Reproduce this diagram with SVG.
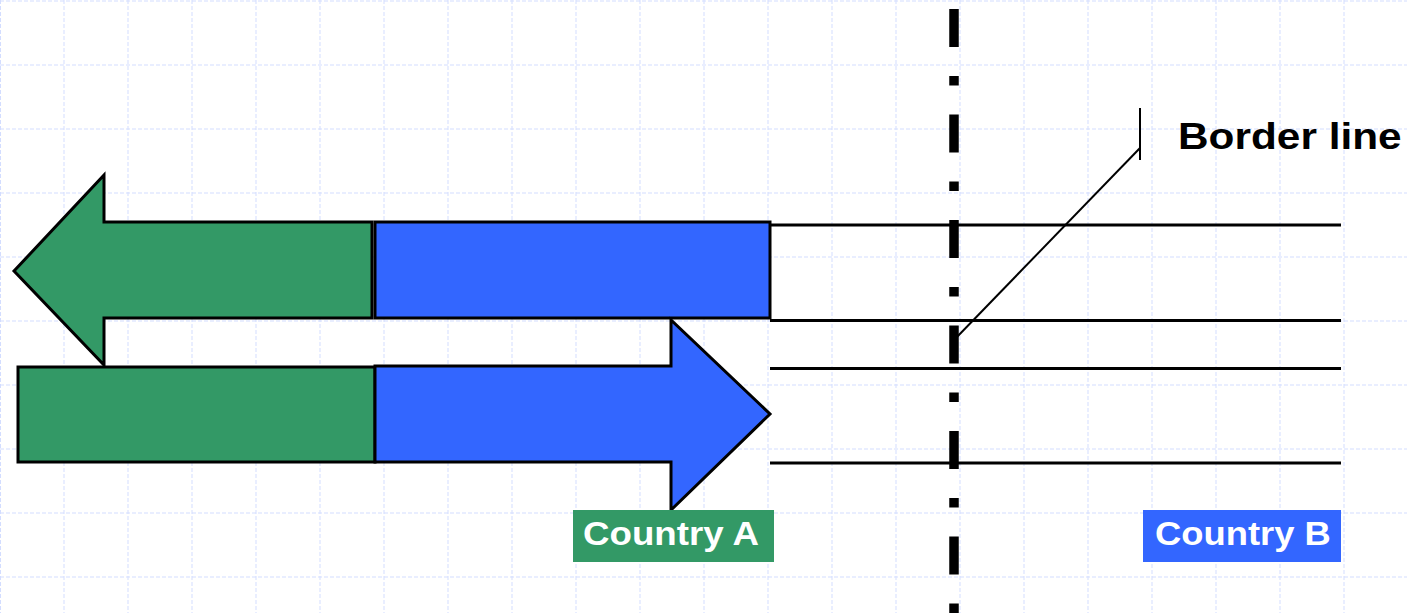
<svg xmlns="http://www.w3.org/2000/svg" width="1407" height="613" viewBox="0 0 1407 613">
<defs>
<style>
.grid line{stroke:#d3ddff;stroke-width:1;stroke-dasharray:4 2}
.shape{stroke:#000;stroke-width:3;stroke-linejoin:miter}
.g{fill:#339966}
.b{fill:#3366ff}
.hl{stroke:#000;stroke-width:3}
.lbl{font-family:"Liberation Sans",Arial,sans-serif;font-weight:bold}
</style>
</defs>
<rect width="1407" height="613" fill="#fff"/>
<g class="grid">
<line x1="0.5" y1="0" x2="0.5" y2="613"/>
<line x1="64" y1="0" x2="64" y2="613"/>
<line x1="128" y1="0" x2="128" y2="613"/>
<line x1="192" y1="0" x2="192" y2="613"/>
<line x1="256" y1="0" x2="256" y2="613"/>
<line x1="320" y1="0" x2="320" y2="613"/>
<line x1="384" y1="0" x2="384" y2="613"/>
<line x1="448" y1="0" x2="448" y2="613"/>
<line x1="512" y1="0" x2="512" y2="613"/>
<line x1="576" y1="0" x2="576" y2="613"/>
<line x1="640" y1="0" x2="640" y2="613"/>
<line x1="704" y1="0" x2="704" y2="613"/>
<line x1="768" y1="0" x2="768" y2="613"/>
<line x1="832" y1="0" x2="832" y2="613"/>
<line x1="896" y1="0" x2="896" y2="613"/>
<line x1="960" y1="0" x2="960" y2="613"/>
<line x1="1024" y1="0" x2="1024" y2="613"/>
<line x1="1088" y1="0" x2="1088" y2="613"/>
<line x1="1152" y1="0" x2="1152" y2="613"/>
<line x1="1216" y1="0" x2="1216" y2="613"/>
<line x1="1280" y1="0" x2="1280" y2="613"/>
<line x1="1344" y1="0" x2="1344" y2="613"/>
<line x1="0" y1="1" x2="1407" y2="1"/>
<line x1="0" y1="65" x2="1407" y2="65"/>
<line x1="0" y1="129" x2="1407" y2="129"/>
<line x1="0" y1="193" x2="1407" y2="193"/>
<line x1="0" y1="257" x2="1407" y2="257"/>
<line x1="0" y1="321" x2="1407" y2="321"/>
<line x1="0" y1="385" x2="1407" y2="385"/>
<line x1="0" y1="449" x2="1407" y2="449"/>
<line x1="0" y1="513" x2="1407" y2="513"/>
<line x1="0" y1="577" x2="1407" y2="577"/>
</g>
<g id="connectors">
<line class="hl" x1="770" y1="225" x2="1341" y2="225"/>
<line class="hl" x1="770" y1="320.5" x2="1341" y2="320.5"/>
<line class="hl" x1="770" y1="368.5" x2="1341" y2="368.5"/>
<line class="hl" x1="770" y1="463" x2="1341" y2="463"/>
<line id="border-line" x1="954" y1="9" x2="954" y2="613" stroke="#000" stroke-width="9.5" stroke-dasharray="38 29 9.5 29"/>
<polyline fill="none" stroke="#000" stroke-width="2" points="956,338 1140,148"/>
<line x1="1140" y1="108" x2="1140" y2="160" stroke="#000" stroke-width="2"/>
</g>
<g id="arrow-left">
<polygon class="shape g" points="14,271 104,175 104,222 372,222 372,318 104,318 104,365"/>
<rect class="shape b" x="375" y="222" width="395" height="96"/>
</g>
<g id="arrow-right">
<rect class="shape g" x="18" y="367" width="357" height="95"/>
<polygon class="shape b" points="375,366 671,366 671,320 770,414 671,510 671,462 375,462"/>
</g>
<g id="label-border">
<text class="lbl" transform="translate(1178,149) scale(1.13,1)" font-size="37.5" fill="#000">Border line</text>
</g>
<g id="country-a">
<rect x="573" y="510" width="201" height="52" fill="#339966"/>
<text class="lbl" transform="translate(583,545) scale(1.13,1)" font-size="32.5" fill="#fff">Country A</text>
</g>
<g id="country-b">
<rect x="1143" y="510" width="198" height="52" fill="#3366ff"/>
<text class="lbl" transform="translate(1155,545) scale(1.12,1)" font-size="32.5" fill="#fff">Country B</text>
</g>
</svg>
